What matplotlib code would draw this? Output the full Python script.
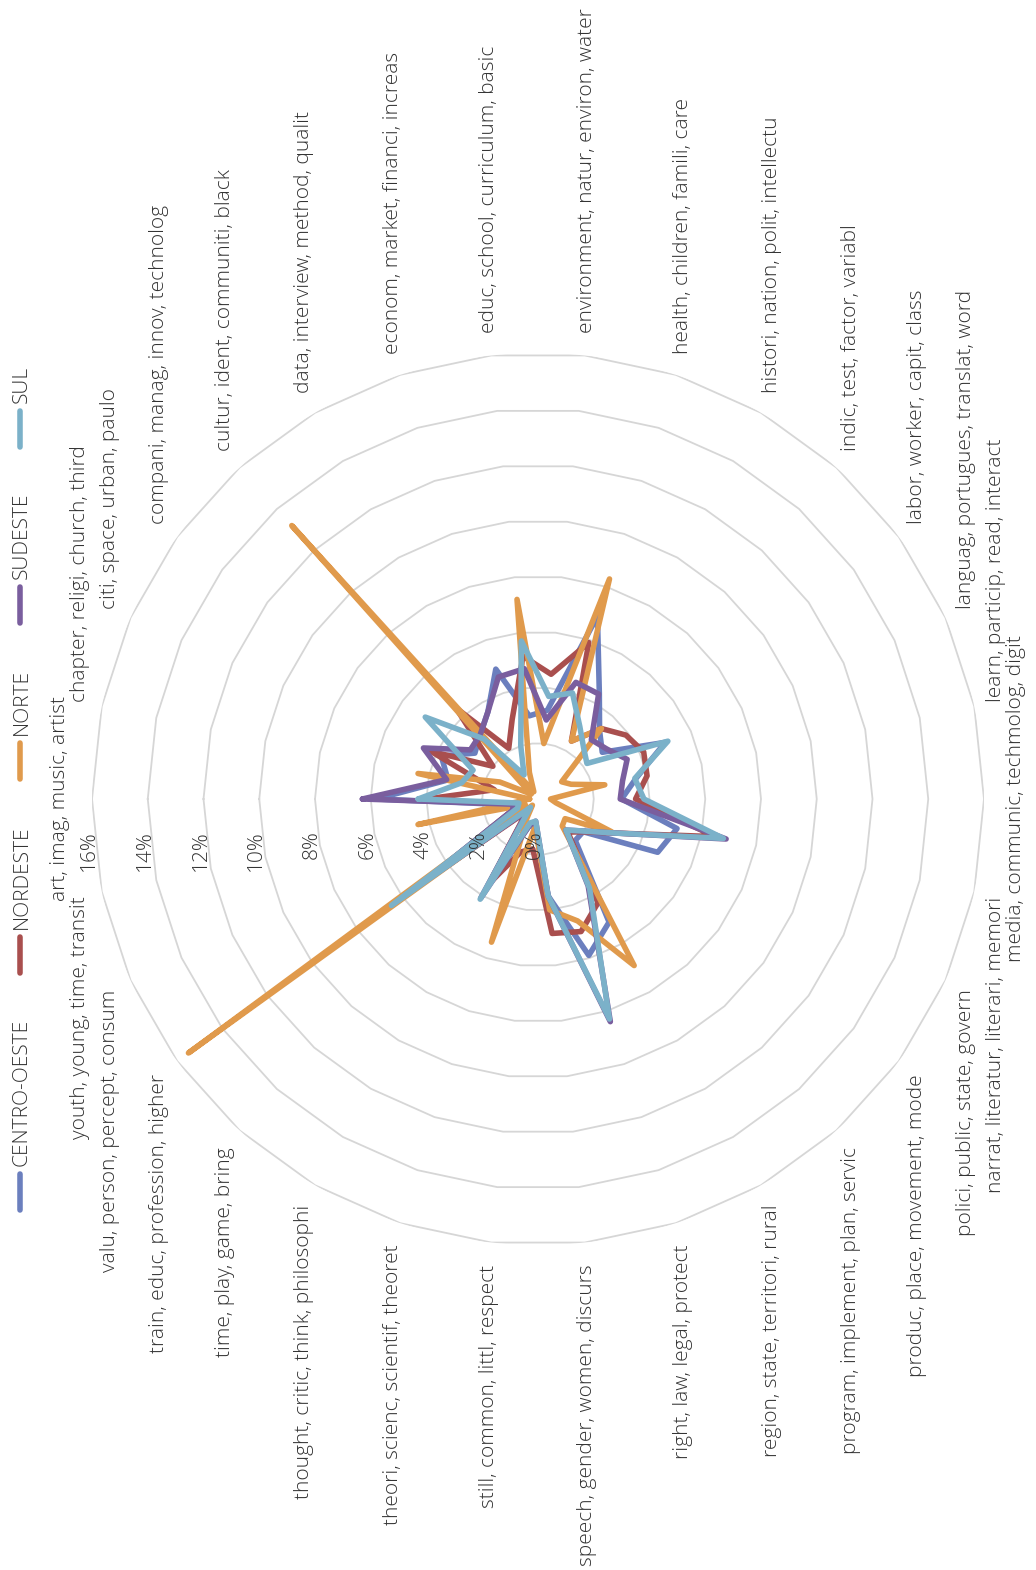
import numpy as np
import matplotlib
matplotlib.use("Agg")
import matplotlib.pyplot as plt
from matplotlib.lines import Line2D
from matplotlib.transforms import offset_copy

plt.rcParams['font.family'] = ['Open Sans', 'DejaVu Sans']
plt.rcParams['font.weight'] = 'light'

labels = [
    'art, imag, music, artist', 'chapter, religi, church, third', 'citi, space, urban, paulo',
    'compani, manag, innov, technolog', 'cultur, ident, communiti, black', 'data, interview, method, qualit',
    'econom, market, financi, increas', 'educ, school, curriculum, basic', 'environment, natur, environ, water',
    'health, children, famili, care', 'histori, nation, polit, intellectu', 'indic, test, factor, variabl',
    'labor, worker, capit, class', 'languag, portugues, translat, word', 'learn, particip, read, interact',
    'media, communic, techmolog, digit', 'narrat, literatur, literari, memori', 'polici, public, state, govern',
    'produc, place, movement, mode', 'program, implement, plan, servic', 'region, state, territori, rural',
    'right, law, legal, protect', 'speech, gender, women, discurs', 'still, common, littl, respect',
    'theori, scienc, scientif, theoret', 'thought, critic, think, philosophi', 'time, play, game, bring',
    'train, educ, profession, higher', 'valu, person, percept, consum', 'youth, young, time, transit',
]

series = ['CENTRO-OESTE', 'NORDESTE', 'NORTE', 'SUDESTE', 'SUL']
colors = ['#6b7fbe', '#a94f4e', '#e09a4c', '#7a5e9e', '#7bb1c9']

centro_oeste = [5.8, 3.3, 3.8, 2.8, 3.1, 3.6, 4.9, 3.0, 3.2, 6.9, 4.4, 3.3, 2.85, 5.0, 3.6,
                3.0, 5.1, 4.7, 2.0, 2.0, 5.1, 5.9, 3.5, 1.0, 1.0, 3.6, 0.5, 5.2, 1.0, 1.0]
nordeste = [4.0, 1.6, 4.2, 2.0, 4.4, 2.1, 3.0, 5.15, 4.5, 5.9, 2.4, 3.4, 3.9, 4.15, 4.0,
            3.5, 6.5, 3.0, 2.0, 1.6, 4.3, 5.0, 4.85, 1.8, 2.0, 3.5, 0.6, 5.0, 1.0, 1.0]
norte = [0.3, 4.4, 1.5, 0.3, 13.2, 0.3, 1.0, 7.2, 2.0, 8.3, 2.4, 3.4, 1.05, 1.3, 2.45,
         0.45, 0.66, 2.9, 1.2, 1.3, 6.9, 4.6, 4.0, 1.0, 5.4, 0.8, 0.3, 15.5, 0.5, 4.4]
sudeste = [6.3, 3.35, 4.5, 3.0, 3.1, 3.6, 4.6, 4.7, 2.85, 4.4, 4.35, 2.86, 3.05, 3.5, 3.1,
           2.95, 6.9, 3.0, 1.95, 1.5, 3.6, 8.4, 3.5, 0.8, 1.0, 4.1, 0.5, 5.3, 1.0, 0.9]
sul = [4.3, 2.8, 2.55, 5.0, 2.9, 1.0, 2.0, 5.7, 3.7, 4.0, 3.0, 2.45, 2.17, 5.1, 3.55,
       3.8, 6.8, 3.0, 1.95, 1.5, 3.7, 8.3, 3.5, 0.8, 0.9, 4.15, 0.4, 6.5, 0.8, 0.7]

ticks = [0, 2, 4, 6, 8, 10, 12, 14, 16]

W, H = 1036, 1570
cx, cy, R = 538, 799, 446  # centre and outer radius in image pixels
FS = 15

fig = plt.figure(figsize=(W / 100, H / 100), dpi=100)
ax = fig.add_axes([(cx - R) / W, (H - cy - R) / H, 2 * R / W, 2 * R / H], projection='polar')
ax.set_theta_offset(np.pi)
ax.set_theta_direction(-1)
ax.set_ylim(0, 16)
ax.grid(False)
ax.set_xticks([])
ax.set_yticks([])
ax.spines['polar'].set_visible(False)
ax.patch.set_alpha(0)

n = len(labels)
theta = np.arange(n) * 2 * np.pi / n
theta_c = np.append(theta, theta[0])

for k in ticks[1:]:
    ax.plot(theta_c, [k] * (n + 1), color='#d6d6d6', lw=1.3, zorder=1)

for vals, col in zip([centro_oeste, nordeste, norte, sudeste, sul], colors):
    v = np.append(vals, vals[0])
    ax.plot(theta_c, v, color=col, lw=4, solid_joinstyle='round', solid_capstyle='round', zorder=3)

# radial tick labels along the first axis
tick_tr = offset_copy(ax.transData, fig=fig, x=-3, y=-31, units='dots')
for k in ticks:
    ax.text(0, k, f'{k}%', transform=tick_tr, rotation=90, ha='center', va='top',
            fontsize=FS, color='#333333', zorder=5)

# category labels
for i, lab in enumerate(labels):
    deg = 360 * i / n
    if deg in (0, 180):
        r, va = 17.15, 'center'
    else:
        r = 16.8
        va = 'bottom' if deg < 180 else 'top'
    ax.text(theta[i], r, lab, rotation=90, ha='center', va=va, fontsize=FS,
            color='#333333', clip_on=False)

# legend, drawn vertically along the left edge
fig.canvas.draw()
renderer = fig.canvas.get_renderer()
y = 1210
for name, col in zip(series, colors):
    fig.add_artist(Line2D([20 / W, 20 / W], [1 - y / H, 1 - (y - 36) / H], color=col, lw=4,
                          solid_capstyle='round'))
    t = fig.text(22 / W, 1 - (y - 44) / H, name, rotation=90, ha='center', va='bottom',
                 fontsize=FS, color='#333333')
    bb = t.get_window_extent(renderer)
    y = y - 44 - bb.height - 46

fig.savefig('out.png', dpi=100)
